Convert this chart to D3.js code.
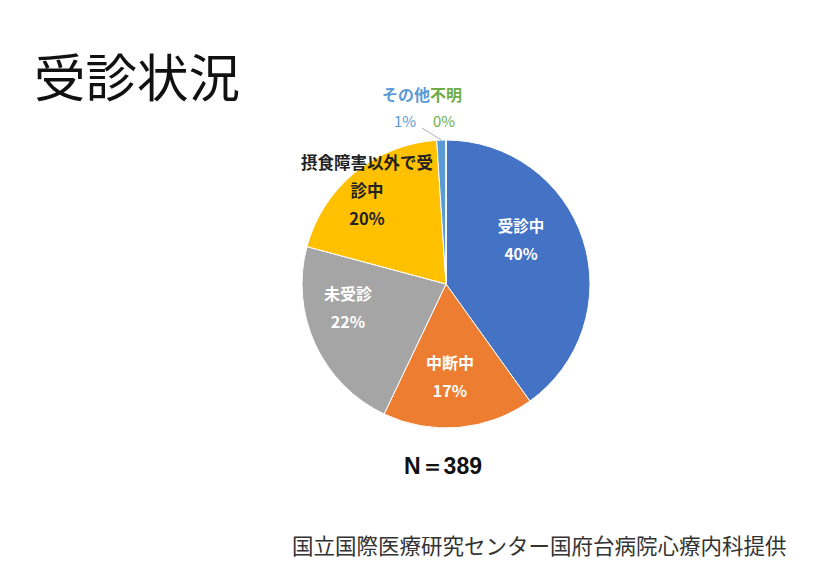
<!DOCTYPE html>
<html><head><meta charset="utf-8">
<script src="https://cdn.jsdelivr.net/npm/d3@7"></script>
<style>html,body{margin:0;padding:0;background:#fff;}</style>
</head><body>
<svg id="c" width="820" height="571"></svg>
<script>
const categories = ["受診中","中断中","未受診","摂食障害以外で受診中","その他","不明"];
const counts = [156, 66, 86, 77, 4, 0];
const percentLabels = ["40%","17%","22%","20%","1%","0%"];
const colors = ["#4472C4","#ED7D31","#A5A5A5","#FFC000","#5B9BD5","#70AD47"];
const titleText = "受診状況";
const nText = "N＝389";
const sourceText = "国立国際医療研究センター国府台病院心療内科提供";

const font = "'Noto Sans CJK JP','Noto Sans',sans-serif";
const svg = d3.select("#c");
const cx = 446, cy = 284, R = 144;

svg.append("text").attr("x", 34).attr("y", 97).attr("font-family", font)
  .attr("font-size", 51.5).attr("fill", "#111").text(titleText);

const pie = d3.pie().sort(null).value(d => d);
const arcs = pie(counts);
const arc = d3.arc().innerRadius(0).outerRadius(R);
const g = svg.append("g").attr("transform", `translate(${cx},${cy})`);
g.selectAll("path").data(arcs).enter().append("path")
  .attr("d", arc).attr("fill", (d,i) => colors[i])
  .attr("stroke", "#fff").attr("stroke-width", 1);

// inside labels (positions offset from slice centroids)
const inside = [
  {i:0, lines:["受診中", percentLabels[0]], dx:75, dy:-44, fill:"#fff", fs:15.5},
  {i:1, lines:["中断中", percentLabels[1]], dx:4, dy:93, fill:"#fff", fs:16},
  {i:2, lines:["未受診", percentLabels[2]], dx:-98, dy:24, fill:"#fff", fs:16},
  {i:3, lines:["摂食障害以外で受","診中", percentLabels[3]], dx:-79, dy:-93.5, fill:"#222", fs:16.5}
];
inside.forEach(o => {
  const lh = 28;
  const n = o.lines.length;
  const t = g.append("text").attr("text-anchor", "middle").attr("font-family", font)
    .attr("font-size", o.fs).attr("font-weight", "bold").attr("fill", o.fill);
  o.lines.forEach((l, k) => {
    t.append("tspan").attr("x", o.dx).attr("y", o.dy + (k - (n - 1) / 2) * lh + 6).text(l);
  });
});

// outside labels for tiny slices
svg.append("text").attr("x", 382).attr("y", 101).attr("font-family", font)
  .attr("font-size", 16).attr("font-weight", "bold").attr("fill", colors[4]).text(categories[4]);
svg.append("text").attr("x", 430).attr("y", 101).attr("font-family", font)
  .attr("font-size", 16).attr("font-weight", "bold").attr("fill", colors[5]).text(categories[5]);
svg.append("text").attr("x", 394).attr("y", 127).attr("font-family", font)
  .attr("font-size", 15).attr("fill", colors[4]).text(percentLabels[4]);
svg.append("text").attr("x", 433).attr("y", 127).attr("font-family", font)
  .attr("font-size", 15).attr("fill", colors[5]).text(percentLabels[5]);
{
  const a = arcs[4];
  const mid = (a.startAngle + a.endAngle) / 2;
  const ex = cx + Math.sin(mid) * R, ey = cy - Math.cos(mid) * R;
  svg.append("line").attr("x1", 422).attr("y1", 128).attr("x2", ex).attr("y2", ey)
    .attr("stroke", "#999").attr("stroke-width", 0.8);
}

svg.append("text").attr("x", 443).attr("y", 474).attr("text-anchor", "middle")
  .attr("font-family", "'Liberation Sans',Arial,sans-serif").attr("font-size", 23)
  .attr("font-weight", "bold").attr("fill", "#111").text(nText);

svg.append("text").attr("x", 292).attr("y", 554).attr("font-family", font)
  .attr("font-size", 21.5).attr("fill", "#333").text(sourceText);
</script>
</body></html>
